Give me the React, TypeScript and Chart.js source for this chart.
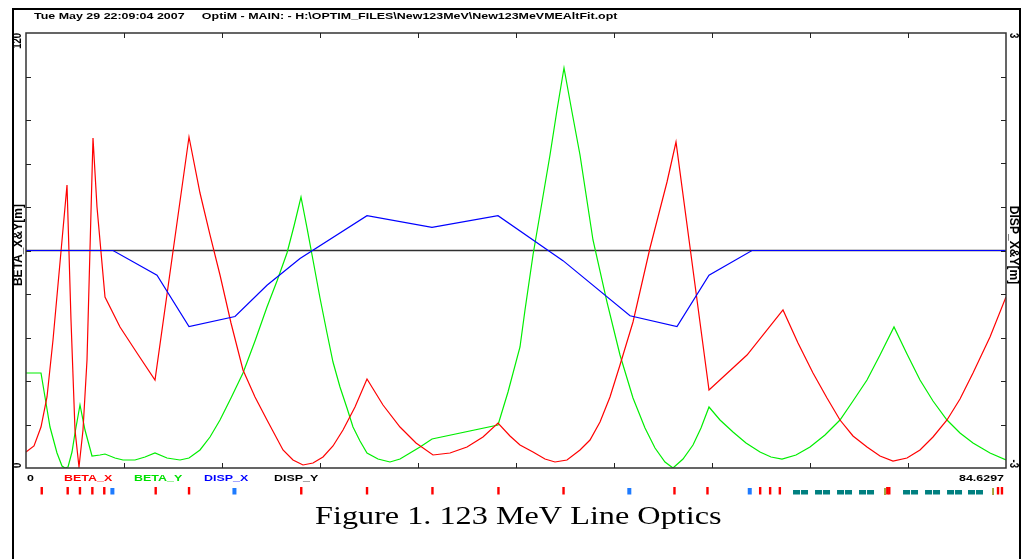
import React, { useEffect, useRef } from "react";
import { Chart, registerables } from "chart.js";
Chart.register(...registerables);

// ---------- data ----------
const S_MAX = 84.6297;

const betaXS = [0, 0.691, 1.295, 1.813, 2.332, 3.541, 3.886, 4.231, 4.577, 4.922, 5.268, 5.786, 6.131, 6.822, 8.118, 9.586, 11.140, 14.076, 15.026, 15.890, 16.753, 17.703, 18.739, 19.776, 20.812, 22.194, 23.057, 23.921, 24.784, 25.648, 26.511, 27.375, 28.411, 29.448, 30.829, 32.298, 33.679, 35.147, 36.615, 38.083, 39.465, 40.760, 41.797, 42.660, 43.783, 44.819, 45.682, 46.718, 47.842, 48.705, 49.569, 50.432, 51.296, 52.419, 53.887, 55.355, 56.132, 58.982, 62.263, 65.372, 66.668, 67.963, 69.172, 70.294, 71.417, 72.626, 73.749, 74.871, 76.080, 77.203, 78.326, 79.535, 80.657, 81.780, 83.248, 84.6297];
const betaXV = [4.41, 6.07, 11.31, 19.59, 35.31, 78.07, 40.83, 10.48, 0.28, 10.48, 29.79, 91.03, 72.00, 47.17, 38.90, 31.72, 24.28, 91.31, 75.86, 64.28, 53.24, 40.00, 27.03, 19.59, 13.24, 4.97, 2.21, 0.83, 1.38, 3.03, 6.07, 10.48, 16.83, 24.55, 17.38, 11.31, 6.90, 3.59, 4.14, 5.79, 8.55, 12.41, 8.83, 6.34, 4.41, 2.48, 1.66, 2.21, 4.97, 7.72, 12.69, 19.59, 28.41, 40.28, 60.69, 78.90, 89.93, 21.52, 31.17, 43.59, 34.48, 26.21, 19.31, 13.24, 8.83, 5.79, 3.31, 1.93, 2.76, 4.97, 8.55, 13.24, 19.03, 26.21, 36.14, 47.17];

const betaYS = [0, 1.295, 1.641, 2.073, 2.677, 3.109, 3.368, 3.627, 3.972, 4.231, 4.663, 5.095, 5.700, 6.390, 6.822, 7.686, 8.377, 9.413, 10.276, 11.140, 12.176, 13.299, 14.076, 15.026, 15.890, 16.753, 17.703, 18.739, 19.776, 20.812, 21.676, 22.539, 23.144, 23.748, 24.266, 24.784, 25.389, 25.993, 26.511, 27.115, 27.720, 28.239, 28.843, 29.448, 30.398, 31.434, 32.298, 33.161, 34.025, 35.061, 40.760, 41.624, 42.660, 43.092, 43.783, 44.474, 45.251, 45.855, 46.460, 47.151, 47.842, 48.964, 50.173, 51.296, 52.419, 53.455, 54.319, 55.182, 55.873, 56.737, 57.600, 58.291, 58.982, 59.932, 61.054, 62.177, 63.386, 64.336, 65.286, 66.495, 67.704, 68.999, 70.294, 71.417, 72.626, 73.749, 74.958, 76.080, 77.203, 78.326, 79.535, 80.657, 81.780, 83.248, 84.6297];
const betaYV = [26.21, 26.21, 19.59, 11.31, 4.14, 0.55, 0.0, 0.28, 4.41, 9.66, 17.38, 10.48, 3.31, 3.59, 3.86, 2.76, 2.21, 2.21, 3.03, 4.14, 2.76, 2.21, 2.76, 4.97, 8.55, 13.24, 19.31, 26.21, 35.03, 44.41, 51.59, 59.31, 66.76, 74.76, 66.21, 57.38, 46.90, 37.24, 29.24, 22.34, 16.55, 11.31, 7.45, 4.14, 2.48, 1.66, 2.48, 4.14, 5.79, 8.00, 11.86, 20.97, 33.38, 43.59, 58.76, 71.72, 86.35, 98.76, 110.34, 98.21, 86.35, 62.90, 45.79, 31.17, 19.31, 11.03, 5.52, 1.66, 0.0, 2.48, 6.34, 11.03, 16.83, 13.24, 9.93, 6.90, 4.41, 3.03, 2.48, 3.59, 5.79, 9.10, 13.24, 18.48, 24.28, 31.17, 38.90, 31.45, 24.28, 18.48, 13.24, 9.66, 6.90, 4.14, 2.21];

const dispXS = [0, 7.513, 11.313, 14.076, 18.049, 20.812, 23.662, 29.448, 35.061, 40.760, 46.374, 52.160, 56.218, 58.982, 62.695, 84.6297];
const dispXV = [0, 0, -0.34, -1.05, -0.91, -0.48, -0.11, 0.48, 0.32, 0.48, -0.14, -0.90, -1.05, -0.34, 0, 0];

const dispYS = [0, 84.6297];
const dispYV = [0, 0];

// axis ticks and labels
const xTicks = [8.463, 16.926, 25.389, 33.852, 42.315, 50.778, 59.241, 67.704, 76.167];
const yTicks = [12, 24, 36, 48, 60, 72, 84, 96, 108];
const y2Ticks = [-2.4, -1.8, -1.2, -0.6, 0, 0.6, 1.2, 1.8, 2.4];
const xTickLabels = ["0", "84.6297"];
const yTickLabels = ["0", "120"];
const y2TickLabels = ["-3", "3"];
const yTitle = "BETA_X&Y[m]";
const y2Title = "DISP_X&Y[m]";
const headerText = "Tue May 29 22:09:04 2007     OptiM - MAIN: - H:\\OPTIM_FILES\\New123MeV\\New123MeVMEAltFit.opt";
const captionText = "Figure 1. 123 MeV Line Optics";
const legendNames = ["BETA_X", "BETA_Y", "DISP_X", "DISP_Y"];
const legendColors = ["#ff0000", "#00e000", "#0000ff", "#000000"];

// lattice element markers (positions along the line, m)
const quadS = [1.36, 3.60, 4.66, 5.73, 6.76, 11.20, 14.08, 23.77, 29.45, 35.10, 40.80, 46.42, 56.00, 58.85, 63.40, 64.26, 65.10, 74.38, 74.55, 83.94, 84.28];
const dipoleS = [7.46, 18.00, 52.10, 62.50];
const solenoidS = [66.54, 67.23, 68.44, 69.13, 70.34, 71.03, 72.24, 72.93, 76.04, 76.73, 77.94, 78.63, 79.84, 80.53, 81.65, 82.34];
const markerS = [74.18, 83.51];

// ---------- drawing helpers ----------
const SX = 1.31; // horizontal stretch of the reference figure's text
const SANS = '"Liberation Sans", Arial, sans-serif';

function txt(
  ctx: CanvasRenderingContext2D,
  text: string,
  x: number,
  y: number,
  o: { align?: CanvasTextAlign; base?: CanvasTextBaseline; rot?: number; color?: string; font?: string; sx?: number; along?: number }
) {
  ctx.save();
  ctx.translate(x, y);
  ctx.scale(o.sx ?? SX, 1);
  if (o.rot) ctx.rotate(o.rot);
  if (o.along) ctx.scale(o.along, 1);
  ctx.font = o.font ?? `bold 9.5px ${SANS}`;
  ctx.textAlign = o.align ?? "left";
  ctx.textBaseline = o.base ?? "alphabetic";
  ctx.fillStyle = o.color ?? "#000";
  ctx.fillText(text, 0, 0);
  ctx.restore();
}

const decorPlugin = {
  id: "opticsDecor",
  afterDraw(chart: any) {
    const ctx: CanvasRenderingContext2D = chart.ctx;
    const { left, right, top, bottom } = chart.chartArea;
    const xs = chart.scales.x;
    const ys = chart.scales.y;
    const y2s = chart.scales.y2;

    ctx.save();
    // outer frame
    ctx.strokeStyle = "#000";
    ctx.lineWidth = 2;
    ctx.beginPath();
    ctx.moveTo(13, 560);
    ctx.lineTo(13, 9);
    ctx.lineTo(1020, 9);
    ctx.lineTo(1020, 560);
    ctx.stroke();

    // plot border
    ctx.strokeStyle = "#333";
    ctx.lineWidth = 1.5;
    ctx.strokeRect(left, top, right - left, bottom - top);

    // inward ticks
    ctx.lineWidth = 1;
    ctx.strokeStyle = "#222";
    ctx.beginPath();
    for (const v of xTicks) {
      const px = Math.round(xs.getPixelForValue(v)) + 0.5;
      ctx.moveTo(px, top);
      ctx.lineTo(px, top + 5);
      ctx.moveTo(px, bottom);
      ctx.lineTo(px, bottom - 5);
    }
    for (const v of yTicks) {
      const py = Math.round(ys.getPixelForValue(v)) + 0.5;
      ctx.moveTo(left, py);
      ctx.lineTo(left + 5, py);
    }
    for (const v of y2Ticks) {
      const py = Math.round(y2s.getPixelForValue(v)) + 0.5;
      ctx.moveTo(right, py);
      ctx.lineTo(right - 5, py);
    }
    ctx.stroke();

    // tick labels
    txt(ctx, xTickLabels[0], xs.getPixelForValue(0) + 1, bottom + 13, {});
    txt(ctx, xTickLabels[1], xs.getPixelForValue(S_MAX) - 2, bottom + 13, { align: "right" });
    txt(ctx, yTickLabels[0], left - 8, ys.getPixelForValue(0), { rot: -Math.PI / 2, align: "left", base: "middle" });
    txt(ctx, yTickLabels[1], left - 8, ys.getPixelForValue(120), { rot: -Math.PI / 2, align: "right", base: "middle" });
    txt(ctx, y2TickLabels[0], right + 7, y2s.getPixelForValue(-3), { rot: Math.PI / 2, align: "right", base: "middle" });
    txt(ctx, y2TickLabels[1], right + 7, y2s.getPixelForValue(3), { rot: Math.PI / 2, align: "left", base: "middle" });

    // axis titles
    txt(ctx, yTitle, left - 7.5, 245, { rot: -Math.PI / 2, align: "center", base: "middle", along: 1.27 });
    txt(ctx, y2Title, right + 7.5, 245, { rot: Math.PI / 2, align: "center", base: "middle", along: 1.27 });

    // legend
    legendNames.forEach((n, i) => {
      txt(ctx, n, 64 + i * 70, bottom + 13, { color: legendColors[i] });
    });

    // header
    txt(ctx, headerText, 34, 19, {});

    // lattice markers
    for (const s of solenoidS) {
      const px = xs.getPixelForValue(s);
      ctx.fillStyle = "#008080";
      ctx.fillRect(px - 3.5, 490, 7, 4.5);
    }
    for (const s of markerS) {
      const px = xs.getPixelForValue(s);
      ctx.fillStyle = "#8a8a00";
      ctx.fillRect(px - 0.75, 488, 1.5, 7);
    }
    for (const s of quadS) {
      const px = xs.getPixelForValue(s);
      ctx.fillStyle = "#ff0000";
      ctx.fillRect(px - 1.2, 487, 2.4, 7.5);
    }
    for (const s of dipoleS) {
      const px = xs.getPixelForValue(s);
      ctx.fillStyle = "#1e7bff";
      ctx.fillRect(px - 2, 488, 4, 6.5);
    }

    // caption
    txt(ctx, captionText, 315, 524, { font: `26px "Liberation Serif", "Times New Roman", serif`, sx: 1.24 });
    ctx.restore();
  },
};

function pts(xs: number[], ys: number[]) {
  return xs.map((x, i) => ({ x, y: ys[i] }));
}

export default function App() {
  const ref = useRef<HTMLCanvasElement | null>(null);
  useEffect(() => {
    if (!ref.current) return;
    const chart = new Chart(ref.current, {
      type: "line",
      data: {
        datasets: [
          { label: "DISP_X", data: pts(dispXS, dispXV), yAxisID: "y2", borderColor: "#0000ff", borderWidth: 1.2, pointRadius: 0, tension: 0, order: 1 },
          { label: "BETA_X", data: pts(betaXS, betaXV), yAxisID: "y", borderColor: "#ff0000", borderWidth: 1.2, pointRadius: 0, tension: 0, order: 2 },
          { label: "BETA_Y", data: pts(betaYS, betaYV), yAxisID: "y", borderColor: "#00ee00", borderWidth: 1.2, pointRadius: 0, tension: 0, order: 3 },
          { label: "DISP_Y", data: pts(dispYS, dispYV), yAxisID: "y2", borderColor: "#303030", borderWidth: 1.5, pointRadius: 0, tension: 0, order: 4 },
        ],
      },
      options: {
        animation: false,
        responsive: false,
        devicePixelRatio: 1,
        events: [],
        layout: { padding: { left: 26, top: 33, right: 22, bottom: 91 } },
        plugins: { legend: { display: false }, tooltip: { enabled: false }, title: { display: false } },
        scales: {
          x: { type: "linear", min: 0, max: S_MAX, display: false },
          y: { type: "linear", min: 0, max: 120, display: false },
          y2: { type: "linear", min: -3, max: 3, display: false, position: "right" },
        },
      },
      plugins: [decorPlugin],
    });
    return () => chart.destroy();
  }, []);
  return (
    <div style={{ position: "absolute", left: 0, top: 0, width: 1028, height: 559, background: "#fff" }}>
      <canvas ref={ref} width={1028} height={559} style={{ width: 1028, height: 559, display: "block" }} />
    </div>
  );
}
